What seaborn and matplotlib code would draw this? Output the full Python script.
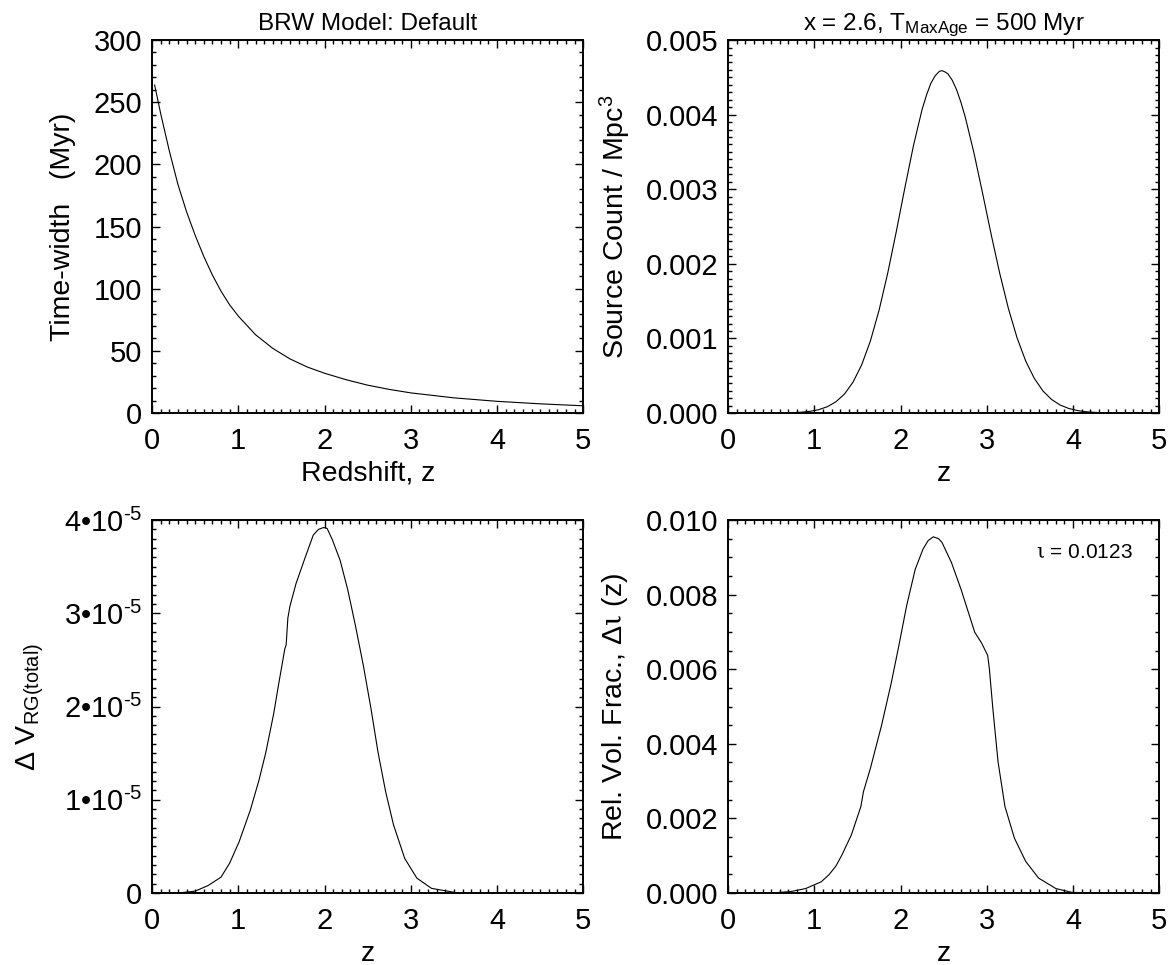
#!/usr/bin/env python3
"""
BRW model panels: time-width, source counts, RG volume and relative volume fraction vs redshift.
"""

import matplotlib
matplotlib.use('Agg')
import matplotlib.pyplot as plt
import seaborn as sns
from matplotlib.ticker import MultipleLocator, AutoMinorLocator, FuncFormatter

sns.set_theme(style="ticks")
plt.rcParams['font.family'] = ['Liberation Sans', 'DejaVu Sans']
plt.rcParams['mathtext.fontset'] = 'custom'
plt.rcParams['mathtext.rm'] = 'Liberation Sans'
plt.rcParams['mathtext.it'] = 'Liberation Sans:italic'
plt.rcParams['mathtext.sf'] = 'DejaVu Serif'   # used only for the hooked iota glyph
plt.rcParams['mathtext.default'] = 'regular'

# --- Panel A: time-width (Myr) vs redshift
z_width = [0.03, 0.1, 0.2, 0.3, 0.4, 0.5, 0.6, 0.7, 0.8, 0.9, 1.0, 1.2, 1.4, 1.6,
           1.8, 2.0, 2.25, 2.5, 2.75, 3.0, 3.5, 4.0, 4.5, 5.0]
time_width = [264, 241, 211, 184, 162, 143, 126, 111, 98, 87, 78, 63, 52, 43.5,
              37, 32, 26.8, 22.4, 19.0, 16.2, 12.2, 9.4, 7.4, 5.8]

# --- Panel B: source count per Mpc^3
z_count = [0.0, 0.55, 0.65, 0.75, 0.85, 0.95, 1.05, 1.15, 1.25, 1.35, 1.45, 1.55,
           1.65, 1.75, 1.85, 1.95, 2.05, 2.15, 2.25, 2.3, 2.35, 2.4, 2.45, 2.48,
           2.52, 2.55, 2.6, 2.65, 2.7, 2.75, 2.85, 2.95, 3.05, 3.15, 3.25, 3.35,
           3.45, 3.55, 3.65, 3.75, 3.85, 3.95, 4.05, 4.15, 4.25, 4.35, 4.45, 4.65, 5.0]
source_count = [0.0, 0.0, 2.3e-6, 5.3e-6, 1.12e-5, 2.29e-5, 4.48e-5, 8.4e-5, 1.50e-4,
                2.55e-4, 4.16e-4, 6.48e-4, 9.65e-4, 1.374e-3, 1.869e-3, 2.430e-3,
                3.020e-3, 3.587e-3, 4.072e-3, 4.260e-3, 4.417e-3, 4.520e-3, 4.581e-3,
                4.59e-3, 4.570e-3, 4.545e-3, 4.460e-3, 4.332e-3, 4.165e-3, 3.967e-3,
                3.491e-3, 2.951e-3, 2.396e-3, 1.870e-3, 1.402e-3, 1.010e-3, 6.99e-4,
                4.65e-4, 2.97e-4, 1.82e-4, 1.07e-4, 6.1e-5, 3.3e-5, 1.7e-5, 8.7e-6,
                4.2e-6, 2.0e-6, 0.0, 0.0]

# --- Panel C: delta V_RG(total), in units of 1e-5
z_vol = [0.0, 0.3, 0.5, 0.65, 0.8, 0.9, 1.01, 1.14, 1.24, 1.32, 1.41, 1.47, 1.54,
         1.555, 1.575, 1.6, 1.67, 1.78, 1.87, 1.93, 1.99, 2.03, 2.09, 2.18, 2.27,
         2.36, 2.45, 2.54, 2.62, 2.71, 2.80, 2.93, 3.07, 3.24, 3.55, 4.0, 5.0]
delta_vol_e5 = [0.0, 0.0, 0.02, 0.08, 0.17, 0.32, 0.55, 0.89, 1.21, 1.51, 1.92, 2.25,
                2.62, 2.66, 2.95, 3.08, 3.32, 3.61, 3.84, 3.90, 3.92, 3.91, 3.79, 3.57,
                3.25, 2.86, 2.44, 1.97, 1.51, 1.08, 0.73, 0.37, 0.16, 0.05, 0.0, 0.0, 0.0]

# --- Panel D: relative volume fraction, in units of 1e-3
z_frac = [0.0, 0.5, 0.73, 0.9, 1.0, 1.08, 1.17, 1.25, 1.32, 1.43, 1.54, 1.57, 1.65,
          1.78, 1.89, 1.98, 2.07, 2.17, 2.26, 2.32, 2.38, 2.44, 2.48, 2.59, 2.70,
          2.86, 2.94, 3.01, 3.03, 3.07, 3.13, 3.21, 3.32, 3.45, 3.60, 3.80, 3.98, 4.2, 5.0]
rel_frac_e3 = [0.0, 0.0, 0.04, 0.12, 0.22, 0.30, 0.49, 0.72, 1.02, 1.56, 2.32, 2.72,
               3.34, 4.50, 5.61, 6.63, 7.70, 8.68, 9.22, 9.45, 9.55, 9.50, 9.40, 8.86,
               8.15, 6.99, 6.70, 6.37, 6.00, 4.94, 3.52, 2.32, 1.47, 0.85, 0.40, 0.12,
               0.02, 0.0, 0.0]
iota_total = 0.0123

TICK_FS = 21
LABEL_FS = 20.5
IOTA = r'$\mathsf{\iota}$'


def style_axis(ax, ymax, ymajor, yminor_n, yfmt):
    """IDL-like box: inward ticks on all four sides."""
    ax.set_xlim(0, 5)
    ax.set_ylim(0, ymax)
    ax.xaxis.set_major_locator(MultipleLocator(1))
    ax.xaxis.set_minor_locator(AutoMinorLocator(10))
    ax.yaxis.set_major_locator(MultipleLocator(ymajor))
    ax.yaxis.set_minor_locator(AutoMinorLocator(yminor_n))
    ax.yaxis.set_major_formatter(yfmt)
    ax.tick_params(which='both', direction='in', top=True, right=True,
                   color='black', labelcolor='black', labelsize=TICK_FS, width=1.0)
    ax.tick_params(which='major', length=5.5)
    ax.tick_params(which='minor', length=2.6)
    ax.tick_params(axis='x', which='major', pad=10)
    ax.tick_params(axis='y', which='major', pad=7)
    for spine in ax.spines.values():
        spine.set_linewidth(1.4)
        spine.set_color('black')
    ax.grid(False)


def set_labels(ax, xlabel, ylabel, ylabel_x):
    ax.set_xlabel(xlabel, fontsize=LABEL_FS, color='black')
    ax.xaxis.set_label_coords(0.5, -0.128)
    ax.text(ylabel_x, 0.5, ylabel, transform=ax.transAxes, rotation=90,
            ha='center', va='center', fontsize=LABEL_FS, color='black')


def draw_curve(ax, x, y):
    sns.lineplot(x=x, y=y, ax=ax, color='black', linewidth=0.8,
                 estimator=None, sort=False, legend=False)


def main():
    fig = plt.figure(figsize=(11.72, 9.65), dpi=100)
    left_x, right_x, width = 0.1297, 0.6212, 0.368
    top_y, bot_y, height = 0.5720, 0.0746, 0.3865
    ax1 = fig.add_axes([left_x, top_y, width, height])
    ax2 = fig.add_axes([right_x, top_y, width, height])
    ax3 = fig.add_axes([left_x, bot_y, width, height])
    ax4 = fig.add_axes([right_x, bot_y, width, height])

    # Panel A
    draw_curve(ax1, z_width, time_width)
    style_axis(ax1, 300, 50, 5, FuncFormatter(lambda v, p: f'{v:.0f}'))
    set_labels(ax1, 'Redshift, z', 'Time-width   (Myr)', -0.206)
    ax1.text(0.5, 1.027, 'BRW Model: Default', transform=ax1.transAxes,
             ha='center', va='baseline', fontsize=17.5, color='black')

    # Panel B
    draw_curve(ax2, z_count, source_count)
    style_axis(ax2, 0.005, 0.001, 10, FuncFormatter(lambda v, p: f'{v:.3f}'))
    set_labels(ax2, 'z', 'Source Count / Mpc$^{3}$', -0.262)
    ax2.text(0.5, 1.027, 'x = 2.6, T$_{MaxAge}$ = 500 Myr', transform=ax2.transAxes,
             ha='center', va='baseline', fontsize=17.5, color='black')

    # Panel C
    draw_curve(ax3, z_vol, [v * 1e-5 for v in delta_vol_e5])

    def sci_fmt(v, p):
        k = int(round(v / 1e-5))
        return '0' if k == 0 else f'{k}\u202210$^{{\u20105}}$'

    style_axis(ax3, 4e-5, 1e-5, 10, FuncFormatter(sci_fmt))
    set_labels(ax3, 'z', '\u0394 V$_{RG(total)}$', -0.281)

    # Panel D
    draw_curve(ax4, z_frac, [v * 1e-3 for v in rel_frac_e3])
    style_axis(ax4, 0.010, 0.002, 4, FuncFormatter(lambda v, p: f'{v:.3f}'))
    set_labels(ax4, 'z', 'Rel. Vol. Frac., \u0394' + IOTA + ' (z)', -0.262)
    ax4.text(0.826, 0.914, IOTA + f' = {iota_total}', transform=ax4.transAxes,
             ha='center', va='center', fontsize=15, color='black')

    fig.savefig('out.png', dpi=100, facecolor='white')
    plt.close(fig)
    print("Saved: out.png")


if __name__ == "__main__":
    main()
